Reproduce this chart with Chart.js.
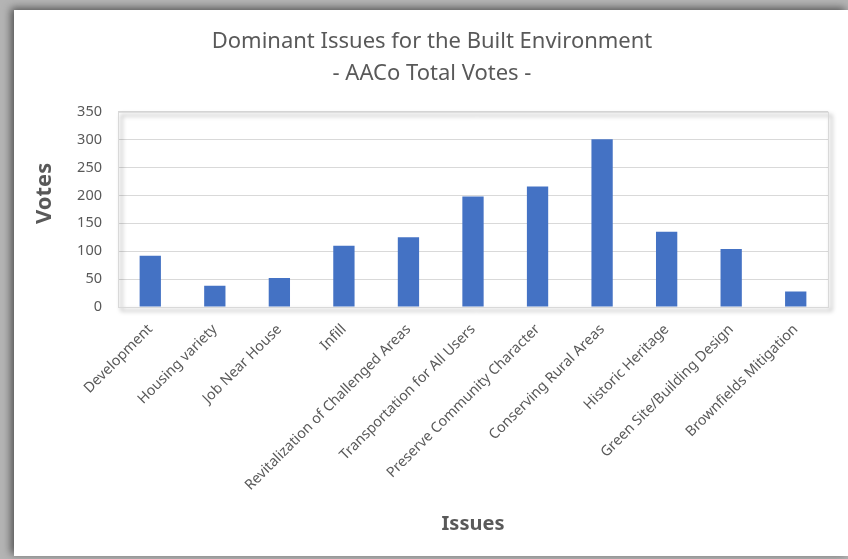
<!DOCTYPE html>
<html>
<head>
<meta charset="utf-8">
<script src="https://cdn.jsdelivr.net/npm/chart.js@4"></script>
<style>
  html, body { margin: 0; padding: 0; background: #fff; }
  #wrap { width: 848px; height: 559px; }
</style>
</head>
<body>
<div id="wrap"><canvas id="issuesChart" width="848" height="559"></canvas></div>
<script>
// chart values
const issues = [
    "Development", "Housing variety", "Job Near House", "Infill",
    "Revitalization of Challenged Areas", "Transportation for All Users",
    "Preserve Community Character", "Conserving Rural Areas",
    "Historic Heritage", "Green Site/Building Design", "Brownfields Mitigation"
];
const votes = [92, 38, 52, 110, 125, 198, 216, 301, 135, 104, 28];
const titleLines = ["Dominant Issues for the Built Environment", "- AACo Total Votes -"];
const xTitle = "Issues";
const yTitle = "Votes";

const textGray = "#595959";
const gridGray = "#d9d9d9";

// gray card edge on the left / top, like the screenshot frame
const cardFrame = {
    id: "cardFrame",
    beforeDraw(chart) {
        const ctx = chart.ctx;
        ctx.save();
        ctx.fillStyle = "#b4b4b4";
        ctx.fillRect(0, 0, chart.width, chart.height);
        ctx.shadowColor = "rgba(0,0,0,0.55)";
        ctx.shadowBlur = 8;
        ctx.shadowOffsetX = -3;
        ctx.shadowOffsetY = -2;
        ctx.fillStyle = "#fff";
        ctx.fillRect(14, 10, chart.width - 14, chart.height - 13);
        ctx.restore();
    }
};

// plot area border with soft shadow bottom/right
const plotShadow = {
    id: "plotShadow",
    beforeDatasetsDraw(chart) {
        const { ctx, chartArea: a } = chart;
        ctx.save();
        ctx.shadowColor = "rgba(0,0,0,0.5)";
        ctx.shadowBlur = 4;
        ctx.shadowOffsetX = 3;
        ctx.shadowOffsetY = 3;
        ctx.strokeStyle = gridGray;
        ctx.lineWidth = 1;
        ctx.strokeRect(a.left + 0.5, a.top + 0.5, a.right - a.left, a.bottom - a.top);
        ctx.restore();
    }
};

// y axis title sits a bit above the plot middle, like Excel places it
const votesTitle = {
    id: "votesTitle",
    afterDraw(chart) {
        const ctx = chart.ctx;
        const a = chart.chartArea;
        ctx.save();
        ctx.translate(45, (a.top + a.bottom) / 2 - 16);
        ctx.rotate(-Math.PI / 2);
        ctx.font = "bold 22px 'Noto Sans'";
        ctx.fillStyle = textGray;
        ctx.textAlign = "center";
        ctx.textBaseline = "middle";
        ctx.fillText(yTitle, 0, 0);
        ctx.restore();
    }
};

new Chart(document.getElementById("issuesChart"), {
    type: "bar",
    data: {
        labels: issues,
        datasets: [{
            label: "Votes",
            data: votes,
            backgroundColor: "#4472C4",
            borderWidth: 0,
            barPercentage: 0.33,
            categoryPercentage: 1
        }]
    },
    options: {
        responsive: false,
        animation: false,
        layout: { padding: { left: 36, top: 10, right: 20, bottom: 3 } },
        plugins: {
            legend: { display: false },
            tooltip: { enabled: false },
            title: {
                display: true,
                text: titleLines,
                color: textGray,
                font: { family: "Noto Sans", size: 22, weight: "normal", lineHeight: 1.45 },
                padding: { top: 16, bottom: 22 }
            }
        },
        scales: {
            x: {
                grid: { display: false, drawTicks: false },
                border: { display: false },
                ticks: {
                    color: textGray,
                    font: { family: "Noto Sans", size: 14.3 },
                    minRotation: 45,
                    maxRotation: 45,
                    padding: 14,
                    autoSkip: false
                },
                title: {
                    display: true,
                    text: xTitle,
                    color: textGray,
                    font: { family: "Noto Sans", size: 20, weight: "bold" },
                    padding: { top: 0, bottom: 20 }
                },
                afterFit(scale) { scale.height = 249; }
            },
            y: {
                min: 0,
                max: 350,
                grid: { color: gridGray, drawTicks: false },
                border: { display: false },
                ticks: {
                    stepSize: 50,
                    color: textGray,
                    font: { family: "Noto Sans", size: 14.5 },
                    padding: 16
                },
                afterFit(scale) { scale.width = 82; }
            }
        }
    },
    plugins: [cardFrame, plotShadow, votesTitle]
});
</script>
</body>
</html>
